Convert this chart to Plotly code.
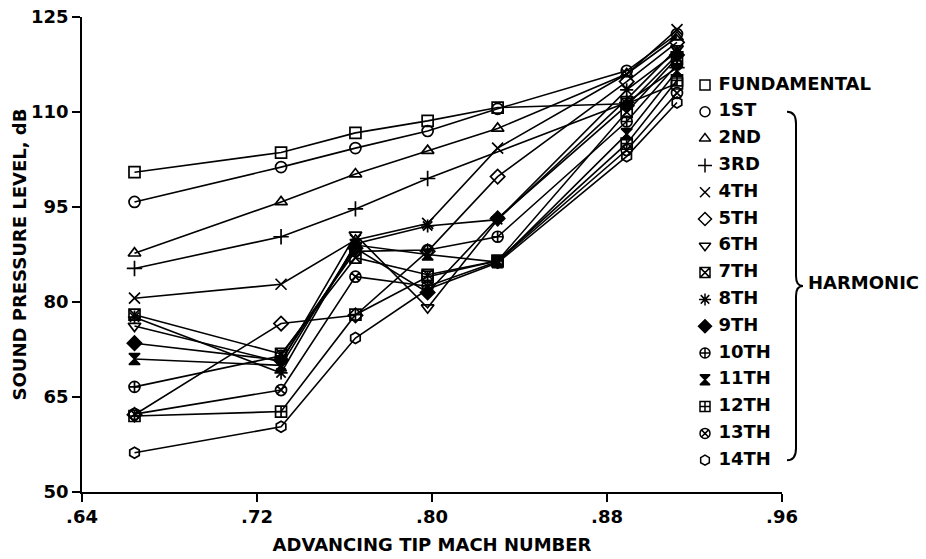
import plotly.graph_objects as go

# Advancing tip Mach number at each test condition
mach = [0.664, 0.731, 0.765, 0.798, 0.830, 0.889, 0.912]

# Sound pressure level (dB) of each tone at each Mach number
fundamental = [100.5, 103.6, 106.7, 108.6, 110.7, 111.3, 114.5]
h1 = [95.8, 101.3, 104.3, 107.0, 110.5, 116.5, 122.3]
h2 = [87.7, 95.8, 100.2, 103.9, 107.4, 116.0, 121.8]
h3 = [85.3, 90.3, 94.7, 99.5, None, 111.5, 117.0]
h4 = [80.6, 82.8, 89.8, 92.4, 104.3, 116.0, 123.0]
h5 = [62.2, 76.6, 77.9, 88.0, 99.8, 114.8, 121.0]
h6 = [76.2, 70.5, 90.6, 79.1, 93.0, 112.0, 120.0]
h7 = [78.0, 71.8, 87.0, 84.3, 86.5, 110.0, 118.5]
h8 = [77.6, 68.8, 89.2, 92.0, 93.0, 113.5, 119.5]
h9 = [73.5, 70.8, 88.5, 81.5, 93.2, 111.0, 119.0]
h10 = [66.6, 71.5, 88.0, 88.2, 90.3, 108.5, 117.5]
h11 = [71.0, 70.0, 89.0, 87.5, 86.3, 106.5, 116.5]
h12 = [62.0, 62.7, 78.0, 84.0, 86.5, 105.0, 115.0]
h13 = [62.3, 66.1, 84.0, 82.5, 86.4, 104.0, 113.0]
h14 = [56.2, 60.3, 74.3, 82.0, 86.2, 103.0, 111.5]

names = ["FUNDAMENTAL", "1ST", "2ND", "3RD", "4TH", "5TH", "6TH", "7TH",
         "8TH", "9TH", "10TH", "11TH", "12TH", "13TH", "14TH"]
levels = [fundamental, h1, h2, h3, h4, h5, h6, h7, h8, h9, h10, h11, h12, h13, h14]

x_ticks = [0.64, 0.72, 0.80, 0.88, 0.96]
x_tick_text = [".64", ".72", ".80", ".88", ".96"]
y_ticks = [50, 65, 80, 95, 110, 125]

symbols = ["square-open", "circle-open", "triangle-up-open", "cross-thin-open",
           "x-thin-open", "diamond-open", "triangle-down-open", "square-x-open",
           "asterisk-open", "diamond", "circle-cross-open", "hourglass",
           "square-cross-open", "circle-x-open", "hexagon-open"]

W, H = 926, 559
INK = "black"
FONT = dict(family="DejaVu Sans, Verdana, sans-serif", color=INK, size=18, weight="bold")

fig = go.Figure()

for name, vals, sym in zip(names, levels, symbols):
    fig.add_trace(go.Scatter(
        x=mach, y=vals, name=name, mode="lines+markers", connectgaps=True,
        line=dict(color=INK, width=1.6),
        marker=dict(symbol=sym, size=11, color=INK, line=dict(color=INK, width=1.7)),
        showlegend=False, xaxis="x", yaxis="y",
    ))

# Hand-built key on an overlay axis measured in page pixels
key_x = 705
key_top = 85
key_step = 26.8
key_y = [key_top + i * key_step for i in range(len(names))]
fig.add_trace(go.Scatter(
    x=[key_x] * len(names), y=key_y, mode="markers+text",
    text=[" " + n for n in names], textposition="middle right",
    textfont=FONT,
    marker=dict(symbol=symbols, size=10, color=INK, line=dict(color=INK, width=1.5)),
    showlegend=False, xaxis="x2", yaxis="y2", hoverinfo="skip",
))

# Brace grouping the harmonics
b_top, b_bot = key_y[1], key_y[-1]
b_mid = (b_top + b_bot) / 2
bx0, bx1, bx2 = 787, 796, 803
brace = (f"M {bx0},{b_top} Q {bx1},{b_top} {bx1},{b_top + 12} "
         f"L {bx1},{b_mid - 10} Q {bx1},{b_mid} {bx2},{b_mid} "
         f"Q {bx1},{b_mid} {bx1},{b_mid + 10} "
         f"L {bx1},{b_bot - 12} Q {bx1},{b_bot} {bx0},{b_bot}")
fig.add_shape(type="path", path=brace, xref="x2", yref="y2",
              line=dict(color=INK, width=2))
fig.add_annotation(x=bx2 + 3, y=b_mid - 4, xref="x2", yref="y2", text="HARMONIC",
                   showarrow=False, xanchor="left", yanchor="middle", font=FONT)

x0_px, x1_px = 82, 782
y_top_px, y_bot_px = 17, 492

fig.update_layout(
    width=W, height=H,
    margin=dict(l=0, r=0, t=0, b=0),
    paper_bgcolor="white", plot_bgcolor="rgba(0,0,0,0)",
    font=FONT,
    xaxis=dict(
        domain=[x0_px / W, x1_px / W], range=[0.64, 0.96],
        tickvals=x_ticks, ticktext=x_tick_text,
        ticks="outside", ticklen=8, tickwidth=1.5, tickcolor=INK,
        showline=True, linecolor=INK, linewidth=1.6, showgrid=False, zeroline=False,
        tickfont=FONT, automargin=False,
        title=dict(text="ADVANCING TIP MACH NUMBER", font=FONT, standoff=12),
    ),
    yaxis=dict(
        domain=[(H - y_bot_px) / H, (H - y_top_px) / H], range=[50, 125],
        tickvals=y_ticks,
        ticks="outside", ticklen=8, tickwidth=1.5, tickcolor=INK,
        showline=True, linecolor=INK, linewidth=1.6, showgrid=False, zeroline=False,
        tickfont=FONT, automargin=False,
        title=dict(text="SOUND PRESSURE LEVEL, dB", font=FONT, standoff=0),
    ),
    xaxis2=dict(domain=[0, 1], range=[0, W], visible=False, anchor="y2"),
    yaxis2=dict(domain=[0, 1], range=[H, 0], visible=False, anchor="x2"),
)

fig.write_html("out.html")
